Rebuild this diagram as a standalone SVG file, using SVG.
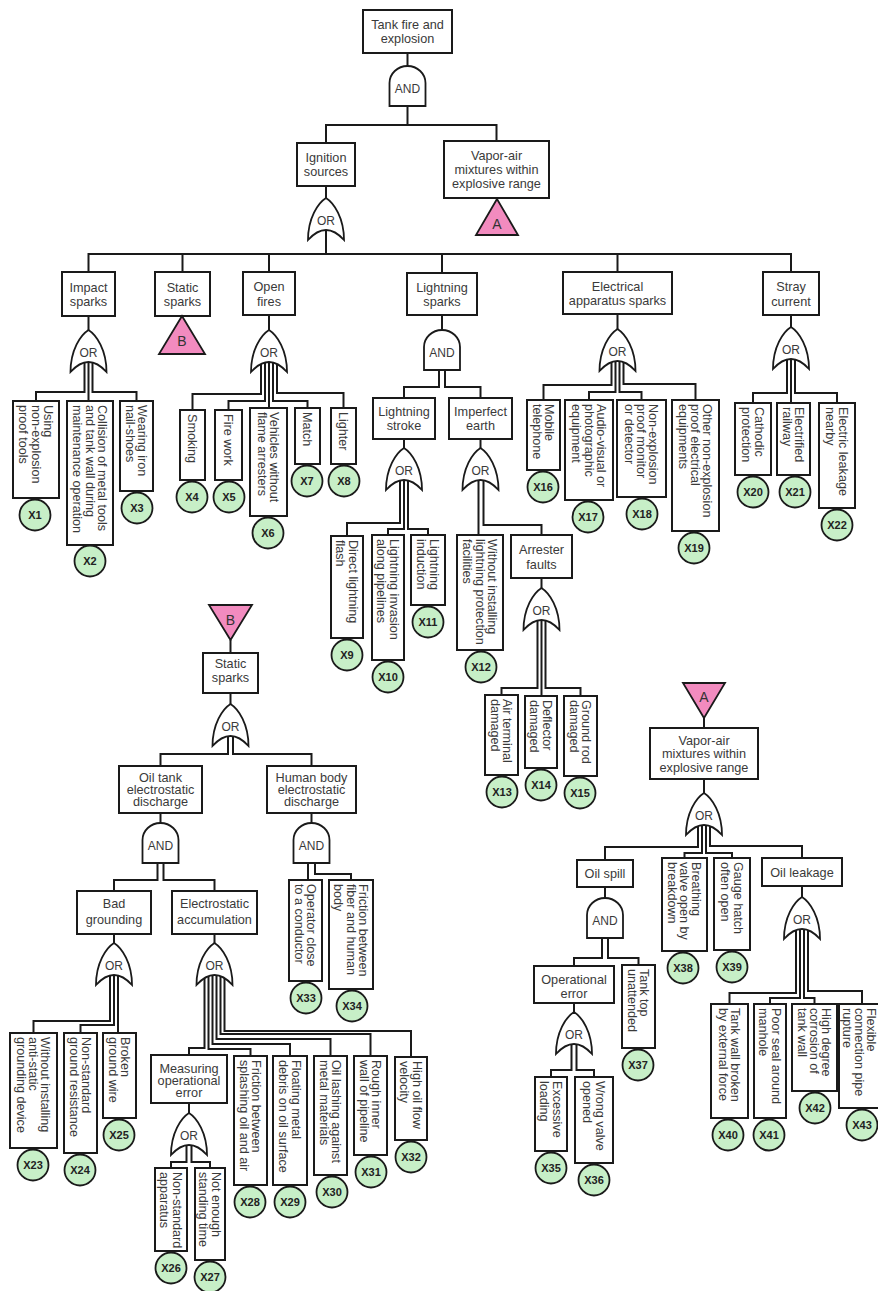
<svg xmlns="http://www.w3.org/2000/svg" width="878" height="1291" viewBox="0 0 878 1291">
<defs>
<style>
.b{fill:#fff;stroke:#1a1a1a;stroke-width:2}
.g{fill:#fff;stroke:#1a1a1a;stroke-width:1.8}
.l{fill:none;stroke:#1a1a1a;stroke-width:2}
.h{font-family:"Liberation Sans",Arial,sans-serif;font-size:12.7px;fill:#3a3a3a;text-anchor:middle}
.v{font-family:"Liberation Sans",Arial,sans-serif;font-size:12.6px;fill:#3a3a3a}
.gt{font-family:"Liberation Sans",Arial,sans-serif;font-size:12px;fill:#3a3a3a;text-anchor:middle}
.c{fill:#c7efc7;stroke:#1a1a1a;stroke-width:1.8}
.ct{font-family:"Liberation Sans",Arial,sans-serif;font-size:11px;font-weight:bold;fill:#222;text-anchor:middle}
.tr{fill:#f28bbf;stroke:#1a1a1a;stroke-width:1.8}
.tt{font-family:"Liberation Sans",Arial,sans-serif;font-size:14px;fill:#333;text-anchor:middle}
</style>
<path id="orS" d="M-18,42 C-18,20 -8,5 0,0 C8,5 18,20 18,42 Q0,22 -18,42 Z"/>
<path id="andS" d="M-18,40 L-18,17 A18,17 0 0 1 18,17 L18,40 Z"/>
</defs>
<rect width="878" height="1291" fill="#fff"/>

<g id="connectors" class="l">
<polyline points="407.5,53 407.5,66"/>
<polyline points="407.5,106 407.5,125"/>
<polyline points="326,143 326,125 496.5,125 496.5,141"/>
<polyline points="326,186 326,198"/>
<polyline points="326,228 326,254"/>
<polyline points="88.5,272 88.5,254 791,254 791,272"/>
<polyline points="182.5,254 182.5,272"/>
<polyline points="269,254 269,272"/>
<polyline points="442,254 442,273"/>
<polyline points="617.5,254 617.5,272"/>
<polyline points="88.5,316 88.5,330"/>
<polyline points="269,315 269,330"/>
<polyline points="442,315 442,330"/>
<polyline points="617.5,314 617.5,329"/>
<polyline points="791,315 791,327"/>
<polyline points="84.5,360 84.5,392 36,392 36,401"/>
<polyline points="88.5,360 88.5,401"/>
<polyline points="92.5,360 92.5,392 136.5,392 136.5,401"/>
<polyline points="261,360 261,394 192.5,394 192.5,410"/>
<polyline points="265,360 265,401 228.5,401 228.5,410"/>
<polyline points="269,360 269,408"/>
<polyline points="273,360 273,401 307.5,401 307.5,408"/>
<polyline points="277,360 277,393 343.5,393 343.5,408"/>
<polyline points="439,370 439,387 404,387 404,398"/>
<polyline points="445,370 445,387 480.5,387 480.5,398"/>
<polyline points="611.5,359 611.5,385 543.5,385 543.5,400"/>
<polyline points="615.5,359 615.5,392 589,392 589,400"/>
<polyline points="619.5,359 619.5,392 641.5,392 641.5,400"/>
<polyline points="623.5,359 623.5,384 695.5,384 695.5,400"/>
<polyline points="787,357 787,393 753,393 753,403"/>
<polyline points="791,357 791,403"/>
<polyline points="795,357 795,393 837,393 837,403"/>
<polyline points="404,439 404,448"/>
<polyline points="480.5,439 480.5,448"/>
<polyline points="400,478 400,523 347,523 347,536"/>
<polyline points="404,478 404,529 388,529 388,535"/>
<polyline points="408,478 408,529 428,529 428,535"/>
<polyline points="478.5,478 478.5,535"/>
<polyline points="483.5,478 483.5,525 541.5,525 541.5,535"/>
<polyline points="541.5,578 541.5,588"/>
<polyline points="537.5,618 537.5,688 501.5,688 501.5,695"/>
<polyline points="541.5,618 541.5,696"/>
<polyline points="545.5,618 545.5,688 580.5,688 580.5,696"/>
<polyline points="230.5,640 230.5,653"/>
<polyline points="230.5,693 230.5,704"/>
<polyline points="228,734 228,754 160.5,754 160.5,766"/>
<polyline points="233,734 233,754 311.5,754 311.5,766"/>
<polyline points="160.5,813 160.5,823"/>
<polyline points="311.5,813 311.5,823"/>
<polyline points="157.5,863 157.5,880 114,880 114,891"/>
<polyline points="163.5,863 163.5,880 214.5,880 214.5,891"/>
<polyline points="308,863 308,880"/>
<polyline points="315,863 315,874 351,874 351,880"/>
<polyline points="114,934 114,943"/>
<polyline points="214.5,934 214.5,943"/>
<polyline points="110,973 110,1021 33.5,1021 33.5,1033"/>
<polyline points="114,973 114,1025 80.5,1025 80.5,1033"/>
<polyline points="118,973 118,1033"/>
<polyline points="204.5,973 204.5,1048 189,1048 189,1055"/>
<polyline points="208.5,973 208.5,1049 250.5,1049 250.5,1056"/>
<polyline points="212.5,973 212.5,1044 290,1044 290,1056"/>
<polyline points="216.5,973 216.5,1039 330.5,1039 330.5,1056"/>
<polyline points="220.5,973 220.5,1034 370.5,1034 370.5,1056"/>
<polyline points="224.5,973 224.5,1031 411,1031 411,1057"/>
<polyline points="189,1103 189,1113"/>
<polyline points="186.5,1143 186.5,1162 171,1162 171,1168"/>
<polyline points="191.5,1143 191.5,1162 210,1162 210,1168"/>
<polyline points="704,718 704,728"/>
<polyline points="704,779 704,793"/>
<polyline points="698,823 698,847 605,847 605,860"/>
<polyline points="702,823 702,853 684.5,853 684.5,858"/>
<polyline points="706,823 706,853 732,853 732,858"/>
<polyline points="710,823 710,846 802,846 802,858"/>
<polyline points="605,887 605,898"/>
<polyline points="602,938 602,958 574,958 574,966"/>
<polyline points="608,938 608,958 638.5,958 638.5,965"/>
<polyline points="574,1003 574,1012"/>
<polyline points="571.5,1042 571.5,1070 551,1070 551,1077"/>
<polyline points="576.5,1042 576.5,1070 594,1070 594,1077"/>
<polyline points="802,886 802,897"/>
<polyline points="796,927 796,993 729.5,993 729.5,1004"/>
<polyline points="800,927 800,998 770,998 770,1004"/>
<polyline points="804,927 804,998 814.5,998 814.5,1004"/>
<polyline points="808,927 808,991 862,991 862,1004"/>
</g>

<!-- events with horizontal text -->
<g id="e_top"><rect class="b" x="363" y="10" width="89" height="43"/><text class="h" x="407.5" y="29">Tank fire and</text><text class="h" x="407.5" y="43">explosion</text></g>
<g id="e_ignition"><rect class="b" x="297" y="143" width="58" height="43"/><text class="h" x="326" y="162">Ignition</text><text class="h" x="326" y="176">sources</text></g>
<g id="e_vapor"><rect class="b" x="444" y="141" width="105" height="57"/><text class="h" x="496.5" y="160">Vapor-air</text><text class="h" x="496.5" y="174">mixtures within</text><text class="h" x="496.5" y="188">explosive range</text></g>
<g id="t_A1"><polygon class="tr" points="497,199 476,235 518,235"/><text class="tt" x="497" y="229">A</text></g>
<g id="e_impact"><rect class="b" x="62" y="272" width="53" height="44"/><text class="h" x="88.5" y="291.5">Impact</text><text class="h" x="88.5" y="306">sparks</text></g>
<g id="e_static1"><rect class="b" x="155" y="272" width="55" height="44"/><text class="h" x="182.5" y="291.5">Static</text><text class="h" x="182.5" y="306">sparks</text></g>
<g id="t_B1"><polygon class="tr" points="182,316 159,354 205,354"/><text class="tt" x="182" y="346">B</text></g>
<g id="e_open"><rect class="b" x="243" y="272" width="52" height="43"/><text class="h" x="269" y="291">Open</text><text class="h" x="269" y="305.5">fires</text></g>
<g id="e_lightning"><rect class="b" x="407" y="273" width="70" height="42"/><text class="h" x="442" y="291.5">Lightning</text><text class="h" x="442" y="306">sparks</text></g>
<g id="e_electrical"><rect class="b" x="563" y="272" width="109" height="42"/><text class="h" x="617.5" y="290.5">Electrical</text><text class="h" x="617.5" y="305">apparatus sparks</text></g>
<g id="e_stray"><rect class="b" x="763" y="272" width="56" height="43"/><text class="h" x="791" y="291">Stray</text><text class="h" x="791" y="305.5">current</text></g>
<g id="e_lstroke"><rect class="b" x="373" y="398" width="62" height="41"/><text class="h" x="404" y="416">Lightning</text><text class="h" x="404" y="430">stroke</text></g>
<g id="e_earth"><rect class="b" x="449" y="398" width="63" height="41"/><text class="h" x="480.5" y="416">Imperfect</text><text class="h" x="480.5" y="430">earth</text></g>
<g id="e_arrester"><rect class="b" x="511" y="535" width="61" height="43"/><text class="h" x="541.5" y="554">Arrester</text><text class="h" x="541.5" y="568.5">faults</text></g>

<g id="t_B2"><polygon class="tr" points="209,605 252,605 230.5,640"/><text class="tt" x="230.5" y="625">B</text></g>
<g id="e_static2"><rect class="b" x="203" y="653" width="55" height="40"/><text class="h" x="230.5" y="668">Static</text><text class="h" x="230.5" y="682">sparks</text></g>
<g id="e_oiltank"><rect class="b" x="119" y="766" width="83" height="47"/><text class="h" x="160.5" y="781.5">Oil tank</text><text class="h" x="160.5" y="793.5">electrostatic</text><text class="h" x="160.5" y="805.5">discharge</text></g>
<g id="e_human"><rect class="b" x="267" y="766" width="89" height="47"/><text class="h" x="311.5" y="781.5">Human body</text><text class="h" x="311.5" y="793.5">electrostatic</text><text class="h" x="311.5" y="805.5">discharge</text></g>
<g id="e_badground"><rect class="b" x="77" y="891" width="74" height="43"/><text class="h" x="114" y="908">Bad</text><text class="h" x="114" y="923.5">grounding</text></g>
<g id="e_accum"><rect class="b" x="172" y="891" width="85" height="43"/><text class="h" x="214.5" y="908">Electrostatic</text><text class="h" x="214.5" y="923.5">accumulation</text></g>
<g id="e_measure"><rect class="b" x="151" y="1055" width="76" height="48"/><text class="h" x="189" y="1072.5">Measuring</text><text class="h" x="189" y="1084.5">operational</text><text class="h" x="189" y="1096.5">error</text></g>

<g id="t_A2"><polygon class="tr" points="683,683 725,683 704,718"/><text class="tt" x="704" y="702">A</text></g>
<g id="e_vapor2"><rect class="b" x="650" y="728" width="108" height="51"/><text class="h" x="704" y="744.5">Vapor-air</text><text class="h" x="704" y="757.5">mixtures within</text><text class="h" x="704" y="771.5">explosive range</text></g>
<g id="e_oilspill"><rect class="b" x="577" y="860" width="56" height="27"/><text class="h" x="605" y="878">Oil spill</text></g>
<g id="e_oilleak"><rect class="b" x="762" y="858" width="80" height="28"/><text class="h" x="802" y="876.5">Oil leakage</text></g>
<g id="e_operr"><rect class="b" x="534" y="966" width="80" height="37"/><text class="h" x="574" y="983.5">Operational</text><text class="h" x="574" y="997.5">error</text></g>

<!-- gates -->
<g id="g_top"><use href="#andS" class="g" x="407.5" y="66"/><text class="gt" x="407.5" y="93">AND</text></g>
<g id="g_ign"><use href="#orS" class="g" x="326" y="198"/><text class="gt" x="326" y="225">OR</text></g>
<g id="g_imp"><use href="#orS" class="g" x="88.5" y="330"/><text class="gt" x="88.5" y="357">OR</text></g>
<g id="g_open"><use href="#orS" class="g" x="269" y="330"/><text class="gt" x="269" y="357">OR</text></g>
<g id="g_ls"><use href="#andS" class="g" x="442" y="330"/><text class="gt" x="442" y="357">AND</text></g>
<g id="g_el"><use href="#orS" class="g" x="617.5" y="329"/><text class="gt" x="617.5" y="356">OR</text></g>
<g id="g_st"><use href="#orS" class="g" x="791" y="327"/><text class="gt" x="791" y="354">OR</text></g>
<g id="g_lst"><use href="#orS" class="g" x="404" y="448"/><text class="gt" x="404" y="475">OR</text></g>
<g id="g_ie"><use href="#orS" class="g" x="480.5" y="448"/><text class="gt" x="480.5" y="475">OR</text></g>
<g id="g_af"><use href="#orS" class="g" x="541.5" y="588"/><text class="gt" x="541.5" y="615">OR</text></g>
<g id="g_ss"><use href="#orS" class="g" x="230.5" y="704"/><text class="gt" x="230.5" y="731">OR</text></g>
<g id="g_ot"><use href="#andS" class="g" x="160.5" y="823"/><text class="gt" x="160.5" y="850">AND</text></g>
<g id="g_hb"><use href="#andS" class="g" x="311.5" y="823"/><text class="gt" x="311.5" y="850">AND</text></g>
<g id="g_bg"><use href="#orS" class="g" x="114" y="943"/><text class="gt" x="114" y="970">OR</text></g>
<g id="g_ea"><use href="#orS" class="g" x="214.5" y="943"/><text class="gt" x="214.5" y="970">OR</text></g>
<g id="g_me"><use href="#orS" class="g" x="189" y="1113"/><text class="gt" x="189" y="1140">OR</text></g>
<g id="g_va"><use href="#orS" class="g" x="704" y="793"/><text class="gt" x="704" y="820">OR</text></g>
<g id="g_os"><use href="#andS" class="g" x="605" y="898"/><text class="gt" x="605" y="925">AND</text></g>
<g id="g_ol"><use href="#orS" class="g" x="802" y="897"/><text class="gt" x="802" y="924">OR</text></g>
<g id="g_oe"><use href="#orS" class="g" x="574" y="1012"/><text class="gt" x="574" y="1039">OR</text></g>

<!-- basic events -->
<g id="x1"><rect class="b" x="13" y="401" width="46" height="97"/><text class="v" transform="translate(43.8,405) rotate(90)"><tspan x="0" y="0">Using</tspan><tspan x="0" dy="12.3">non-explosion</tspan><tspan x="0" dy="12.3">proof tools</tspan></text><circle class="c" cx="35" cy="515" r="15.5"/><text class="ct" x="35" y="519">X1</text></g>
<g id="x2"><rect class="b" x="67" y="401" width="46" height="144"/><text class="v" transform="translate(97.8,405) rotate(90)"><tspan x="0" y="0">Collision of metal tools</tspan><tspan x="0" dy="12.3">and tank wall during</tspan><tspan x="0" dy="12.3">maintenance operation</tspan></text><circle class="c" cx="90" cy="561" r="15.5"/><text class="ct" x="90" y="565">X2</text></g>
<g id="x3"><rect class="b" x="120" y="401" width="33" height="90"/><text class="v" transform="translate(138.15,405) rotate(90)"><tspan x="0" y="0">Wearing iron</tspan><tspan x="0" dy="12.3">nail-shoes</tspan></text><circle class="c" cx="137" cy="508" r="15.5"/><text class="ct" x="137" y="512">X3</text></g>
<g id="x4"><rect class="b" x="180" y="410" width="25" height="70"/><text class="v" transform="translate(188,414) rotate(90)">Smoking</text><circle class="c" cx="192" cy="497" r="15.5"/><text class="ct" x="192" y="501">X4</text></g>
<g id="x5"><rect class="b" x="215" y="410" width="27" height="70"/><text class="v" transform="translate(224,414) rotate(90)">Fire work</text><circle class="c" cx="229" cy="497" r="15.5"/><text class="ct" x="229" y="501">X5</text></g>
<g id="x6"><rect class="b" x="250" y="408" width="37" height="108"/><text class="v" transform="translate(270.15,412) rotate(90)"><tspan x="0" y="0">Vehicles without</tspan><tspan x="0" dy="12.3">flame arresters</tspan></text><circle class="c" cx="268" cy="533" r="15.5"/><text class="ct" x="268" y="537">X6</text></g>
<g id="x7"><rect class="b" x="295" y="408" width="25" height="56"/><text class="v" transform="translate(303,412) rotate(90)">Match</text><circle class="c" cx="307" cy="481" r="15.5"/><text class="ct" x="307" y="485">X7</text></g>
<g id="x8"><rect class="b" x="331" y="408" width="25" height="56"/><text class="v" transform="translate(339,412) rotate(90)">Lighter</text><circle class="c" cx="344" cy="481" r="15.5"/><text class="ct" x="344" y="485">X8</text></g>
<g id="x9"><rect class="b" x="331" y="536" width="32" height="102"/><text class="v" transform="translate(348.65,540) rotate(90)"><tspan x="0" y="0">Direct lightning</tspan><tspan x="0" dy="12.3">flash</tspan></text><circle class="c" cx="347" cy="655" r="15.5"/><text class="ct" x="347" y="659">X9</text></g>
<g id="x10"><rect class="b" x="372" y="535" width="32" height="125"/><text class="v" transform="translate(389.65,539) rotate(90)"><tspan x="0" y="0">Lightning invasion</tspan><tspan x="0" dy="12.3">along pipelines</tspan></text><circle class="c" cx="388" cy="677" r="15.5"/><text class="ct" x="388" y="681">X10</text></g>
<g id="x11"><rect class="b" x="411" y="535" width="34" height="70"/><text class="v" transform="translate(429.65,539) rotate(90)"><tspan x="0" y="0">Lightning</tspan><tspan x="0" dy="12.3">induction</tspan></text><circle class="c" cx="428" cy="622" r="15.5"/><text class="ct" x="428" y="626">X11</text></g>
<g id="x12"><rect class="b" x="457" y="535" width="46" height="115"/><text class="v" transform="translate(487.8,539) rotate(90)"><tspan x="0" y="0">Without installing</tspan><tspan x="0" dy="12.3">lightning protection</tspan><tspan x="0" dy="12.3">facilities</tspan></text><circle class="c" cx="481" cy="667" r="15.5"/><text class="ct" x="481" y="671">X12</text></g>
<g id="x13"><rect class="b" x="485" y="695" width="33" height="80"/><text class="v" transform="translate(503.15,699) rotate(90)"><tspan x="0" y="0">Air terminal</tspan><tspan x="0" dy="12.3">damaged</tspan></text><circle class="c" cx="502" cy="792" r="15.5"/><text class="ct" x="502" y="796">X13</text></g>
<g id="x14"><rect class="b" x="525" y="696" width="32" height="72"/><text class="v" transform="translate(542.65,700) rotate(90)"><tspan x="0" y="0">Deflector</tspan><tspan x="0" dy="12.3">damaged</tspan></text><circle class="c" cx="541" cy="785" r="15.5"/><text class="ct" x="541" y="789">X14</text></g>
<g id="x15"><rect class="b" x="564" y="696" width="33" height="80"/><text class="v" transform="translate(582.15,700) rotate(90)"><tspan x="0" y="0">Ground rod</tspan><tspan x="0" dy="12.3">damaged</tspan></text><circle class="c" cx="580" cy="793" r="15.5"/><text class="ct" x="580" y="797">X15</text></g>
<g id="x16"><rect class="b" x="527" y="400" width="33" height="70"/><text class="v" transform="translate(545.15,404) rotate(90)"><tspan x="0" y="0">Mobile</tspan><tspan x="0" dy="12.3">telephone</tspan></text><circle class="c" cx="543" cy="487" r="15.5"/><text class="ct" x="543" y="491">X16</text></g>
<g id="x17"><rect class="b" x="565" y="400" width="48" height="100"/><text class="v" transform="translate(596.8,404) rotate(90)"><tspan x="0" y="0">Audio-visual or</tspan><tspan x="0" dy="12.3">photographic</tspan><tspan x="0" dy="12.3">equipment</tspan></text><circle class="c" cx="588" cy="517" r="15.5"/><text class="ct" x="588" y="521">X17</text></g>
<g id="x18"><rect class="b" x="617" y="400" width="49" height="97"/><text class="v" transform="translate(649.3,404) rotate(90)"><tspan x="0" y="0">Non-explosion</tspan><tspan x="0" dy="12.3">proof monitor</tspan><tspan x="0" dy="12.3">or detector</tspan></text><circle class="c" cx="642" cy="514" r="15.5"/><text class="ct" x="642" y="518">X18</text></g>
<g id="x19"><rect class="b" x="672" y="400" width="47" height="131"/><text class="v" transform="translate(703.3,404) rotate(90)"><tspan x="0" y="0">Other non-explosion</tspan><tspan x="0" dy="12.3">proof electrical</tspan><tspan x="0" dy="12.3">equipments</tspan></text><circle class="c" cx="694" cy="548" r="15.5"/><text class="ct" x="694" y="552">X19</text></g>
<g id="x20"><rect class="b" x="735" y="403" width="36" height="72"/><text class="v" transform="translate(754.65,407) rotate(90)"><tspan x="0" y="0">Cathodic</tspan><tspan x="0" dy="12.3">protection</tspan></text><circle class="c" cx="753" cy="492" r="15.5"/><text class="ct" x="753" y="496">X20</text></g>
<g id="x21"><rect class="b" x="777" y="403" width="33" height="72"/><text class="v" transform="translate(795.15,407) rotate(90)"><tspan x="0" y="0">Electrified</tspan><tspan x="0" dy="12.3">railway</tspan></text><circle class="c" cx="795" cy="492" r="15.5"/><text class="ct" x="795" y="496">X21</text></g>
<g id="x22"><rect class="b" x="819" y="403" width="36" height="105"/><text class="v" transform="translate(838.65,407) rotate(90)"><tspan x="0" y="0">Electric leakage</tspan><tspan x="0" dy="12.3">nearby</tspan></text><circle class="c" cx="837" cy="525" r="15.5"/><text class="ct" x="837" y="529">X22</text></g>
<g id="x23"><rect class="b" x="10" y="1033" width="47" height="115"/><text class="v" transform="translate(41.3,1037) rotate(90)"><tspan x="0" y="0">Without installing</tspan><tspan x="0" dy="12.3">anti-static</tspan><tspan x="0" dy="12.3">grounding device</tspan></text><circle class="c" cx="33" cy="1165" r="15.5"/><text class="ct" x="33" y="1169">X23</text></g>
<g id="x24"><rect class="b" x="64" y="1033" width="33" height="120"/><text class="v" transform="translate(82.15,1037) rotate(90)"><tspan x="0" y="0">Non-standard</tspan><tspan x="0" dy="12.3">ground resistance</tspan></text><circle class="c" cx="80" cy="1170" r="15.5"/><text class="ct" x="80" y="1174">X24</text></g>
<g id="x25"><rect class="b" x="103" y="1033" width="33" height="85"/><text class="v" transform="translate(121.15,1037) rotate(90)"><tspan x="0" y="0">Broken</tspan><tspan x="0" dy="12.3">ground wire</tspan></text><circle class="c" cx="119" cy="1135" r="15.5"/><text class="ct" x="119" y="1139">X25</text></g>
<g id="x26"><rect class="b" x="155" y="1168" width="32" height="83"/><text class="v" transform="translate(172.65,1172) rotate(90)"><tspan x="0" y="0">Non-standard</tspan><tspan x="0" dy="12.3">apparatus</tspan></text><circle class="c" cx="171" cy="1268" r="15.5"/><text class="ct" x="171" y="1272">X26</text></g>
<g id="x27"><rect class="b" x="195" y="1168" width="30" height="92"/><text class="v" transform="translate(211.65,1172) rotate(90)"><tspan x="0" y="0">Not enough</tspan><tspan x="0" dy="12.3">standing time</tspan></text><circle class="c" cx="210" cy="1277" r="15.5"/><text class="ct" x="210" y="1281">X27</text></g>
<g id="x28"><rect class="b" x="234" y="1056" width="33" height="129"/><text class="v" transform="translate(252.15,1060) rotate(90)"><tspan x="0" y="0">Friction between</tspan><tspan x="0" dy="12.3">splashing oil and air</tspan></text><circle class="c" cx="250" cy="1202" r="15.5"/><text class="ct" x="250" y="1206">X28</text></g>
<g id="x29"><rect class="b" x="273" y="1056" width="34" height="129"/><text class="v" transform="translate(291.65,1060) rotate(90)"><tspan x="0" y="0">Floating metal</tspan><tspan x="0" dy="12.3">debris on oil surface</tspan></text><circle class="c" cx="290" cy="1202" r="15.5"/><text class="ct" x="290" y="1206">X29</text></g>
<g id="x30"><rect class="b" x="314" y="1056" width="33" height="119"/><text class="v" transform="translate(332.15,1060) rotate(90)"><tspan x="0" y="0">Oil lashing against</tspan><tspan x="0" dy="12.3">metal materials</tspan></text><circle class="c" cx="332" cy="1192" r="15.5"/><text class="ct" x="332" y="1196">X30</text></g>
<g id="x31"><rect class="b" x="354" y="1056" width="33" height="99"/><text class="v" transform="translate(372.15,1060) rotate(90)"><tspan x="0" y="0">Rough inner</tspan><tspan x="0" dy="12.3">wall of pipeline</tspan></text><circle class="c" cx="371" cy="1172" r="15.5"/><text class="ct" x="371" y="1176">X31</text></g>
<g id="x32"><rect class="b" x="395" y="1057" width="32" height="83"/><text class="v" transform="translate(412.65,1061) rotate(90)"><tspan x="0" y="0">High oil flow</tspan><tspan x="0" dy="12.3">velocity</tspan></text><circle class="c" cx="411" cy="1157" r="15.5"/><text class="ct" x="411" y="1161">X32</text></g>
<g id="x33"><rect class="b" x="289" y="880" width="33" height="101"/><text class="v" transform="translate(307.15,884) rotate(90)"><tspan x="0" y="0">Operator close</tspan><tspan x="0" dy="12.3">to a conductor</tspan></text><circle class="c" cx="306" cy="998" r="15.5"/><text class="ct" x="306" y="1002">X33</text></g>
<g id="x34"><rect class="b" x="329" y="880" width="44" height="109"/><text class="v" transform="translate(358.8,884) rotate(90)"><tspan x="0" y="0">Friction between</tspan><tspan x="0" dy="12.3">fiber and human</tspan><tspan x="0" dy="12.3">body</tspan></text><circle class="c" cx="352" cy="1006" r="15.5"/><text class="ct" x="352" y="1010">X34</text></g>
<g id="x35"><rect class="b" x="535" y="1077" width="32" height="74"/><text class="v" transform="translate(552.65,1081) rotate(90)"><tspan x="0" y="0">Excessive</tspan><tspan x="0" dy="12.3">loading</tspan></text><circle class="c" cx="551" cy="1168" r="15.5"/><text class="ct" x="551" y="1172">X35</text></g>
<g id="x36"><rect class="b" x="575" y="1077" width="38" height="86"/><text class="v" transform="translate(595.65,1081) rotate(90)"><tspan x="0" y="0">Wrong valve</tspan><tspan x="0" dy="12.3">opened</tspan></text><circle class="c" cx="594" cy="1180" r="15.5"/><text class="ct" x="594" y="1184">X36</text></g>
<g id="x37"><rect class="b" x="622" y="965" width="33" height="83"/><text class="v" transform="translate(640.15,969) rotate(90)"><tspan x="0" y="0">Tank top</tspan><tspan x="0" dy="12.3">unattended</tspan></text><circle class="c" cx="638" cy="1065" r="15.5"/><text class="ct" x="638" y="1069">X37</text></g>
<g id="x38"><rect class="b" x="662" y="858" width="45" height="93"/><text class="v" transform="translate(692.3,862) rotate(90)"><tspan x="0" y="0">Breathing</tspan><tspan x="0" dy="12.3">valve open by</tspan><tspan x="0" dy="12.3">breakdown</tspan></text><circle class="c" cx="683" cy="968" r="15.5"/><text class="ct" x="683" y="972">X38</text></g>
<g id="x39"><rect class="b" x="714" y="858" width="36" height="92"/><text class="v" transform="translate(733.65,862) rotate(90)"><tspan x="0" y="0">Gauge hatch</tspan><tspan x="0" dy="12.3">often open</tspan></text><circle class="c" cx="732" cy="967" r="15.5"/><text class="ct" x="732" y="971">X39</text></g>
<g id="x40"><rect class="b" x="711" y="1004" width="37" height="114"/><text class="v" transform="translate(731.15,1008) rotate(90)"><tspan x="0" y="0">Tank wall broken</tspan><tspan x="0" dy="12.3">by external force</tspan></text><circle class="c" cx="728" cy="1135" r="15.5"/><text class="ct" x="728" y="1139">X40</text></g>
<g id="x41"><rect class="b" x="754" y="1004" width="32" height="114"/><text class="v" transform="translate(771.65,1008) rotate(90)"><tspan x="0" y="0">Poor seal around</tspan><tspan x="0" dy="12.3">manhole</tspan></text><circle class="c" cx="769" cy="1135" r="15.5"/><text class="ct" x="769" y="1139">X41</text></g>
<g id="x42"><rect class="b" x="792" y="1004" width="45" height="87"/><text class="v" transform="translate(822.3,1008) rotate(90)"><tspan x="0" y="0">High degree</tspan><tspan x="0" dy="12.3">corrosion of</tspan><tspan x="0" dy="12.3">tank wall</tspan></text><circle class="c" cx="815" cy="1108" r="15.5"/><text class="ct" x="815" y="1112">X42</text></g>
<g id="x43"><rect class="b" x="839" y="1004" width="42" height="104"/><text class="v" transform="translate(866.5,1008) rotate(90)"><tspan x="0" y="0">Flexible</tspan><tspan x="0" dy="12">connection pipe</tspan><tspan x="0" dy="12">rupture</tspan></text><circle class="c" cx="862" cy="1125" r="15.5"/><text class="ct" x="862" y="1129">X43</text></g>
</svg>
